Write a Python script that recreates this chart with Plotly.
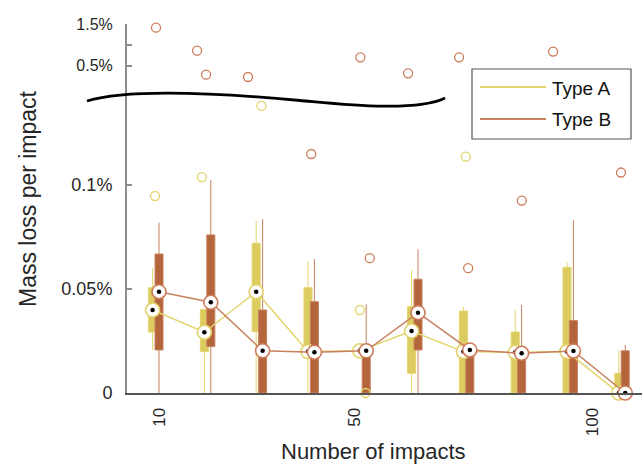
import plotly.graph_objects as go

# ---------------- data ----------------
impacts = [10, 20, 30, 40, 50, 60, 70, 80, 90, 100]
tick_pos = [10.8, 48.4, 94.3]
tick_text = ["10", "50", "100"]

# Type A box statistics (mass loss per impact, %)
A_lo  = [0.0207, 0.0, 0.0, 0.0, 0.0203, 0.0, 0.0, 0.0, 0.0, 0.0]
A_q1  = [0.0293, 0.0199, 0.0295, 0.0196, 0.0203, 0.0095, 0.0, 0.0, 0.0, 0.0]
A_med = [0.0399, 0.0292, 0.0487, 0.0199, 0.0203, 0.0298, 0.0199, 0.0196, 0.0199, 0.0]
A_q3  = [0.0506, 0.0402, 0.0720, 0.0506, 0.0203, 0.0415, 0.0394, 0.0293, 0.0604, 0.0095]
A_hi  = [0.0600, 0.0402, 0.0828, 0.0631, 0.0203, 0.0591, 0.0415, 0.0399, 0.0627, 0.0203]

# Type B box statistics
B_lo  = [0.0, 0.0, 0.0, 0.0, 0.0, 0.0, 0.0, 0.0, 0.0, 0.0]
B_q1  = [0.0207, 0.0223, 0.0, 0.0, 0.0, 0.0207, 0.0, 0.0, 0.0, 0.0]
B_med = [0.0487, 0.0436, 0.0203, 0.0196, 0.0203, 0.0386, 0.0207, 0.0191, 0.0202, 0.0]
B_q3  = [0.0668, 0.0760, 0.0399, 0.0439, 0.0203, 0.0547, 0.0207, 0.0196, 0.0348, 0.0203]
B_hi  = [0.0819, 0.1024, 0.0837, 0.0644, 0.0426, 0.0691, 0.0207, 0.0423, 0.0832, 0.0231]

# outliers
A_out_x = [9.85, 18.9, 30.4, 69.85, 49.4, 50.5]
A_out_y = [0.0947, 0.1038, 0.138, 0.1136, 0.0399, 0.0]
B_out_x = [40.0, 51.3, 70.3, 80.65, 99.8]
B_out_y = [0.1149, 0.0648, 0.060, 0.0925, 0.106]
B_out_hi_x = [10.04, 17.97, 19.7, 27.8, 49.5, 58.7, 68.55, 86.7]
B_out_hi_y = [1.418, 0.862, 0.283, 0.227, 0.703, 0.316, 0.703, 0.84]

# ---------------- style ----------------
W, H = 642, 465
L, R, T, B = 127, 0, 24, 72
PW, PH = W - L - R, H - T - B
BREAK = (H - B - 95) / PH

A_FILL, A_LINE, A_CIRC = "#dccb5f", "#e4d46c", "#e2d36a"
B_FILL, B_LINE, B_CIRC = "#b4653b", "#c88160", "#cc7c5a"
FONT = "Liberation Sans, Arial, sans-serif"
TXT = "#262626"
OFF = 0.62
BW = 1.55

def px(xp):
    return (xp - L) / PW

def py(yp):
    return (H - B - yp) / PH

xa = [v - OFF for v in impacts]
xb = [v + OFF for v in impacts]

fig = go.Figure()

fig.add_trace(go.Box(x=xa, q1=A_q1, median=A_med, q3=A_q3, lowerfence=A_lo, upperfence=A_hi,
                     width=BW, fillcolor=A_FILL, line=dict(color=A_LINE, width=1),
                     whiskerwidth=0, boxpoints=False, showlegend=False, hoverinfo="skip"))
fig.add_trace(go.Box(x=xb, q1=B_q1, median=B_med, q3=B_q3, lowerfence=B_lo, upperfence=B_hi,
                     width=BW, fillcolor=B_FILL, line=dict(color=B_LINE, width=1),
                     whiskerwidth=0, boxpoints=False, showlegend=False, hoverinfo="skip"))

# outliers
fig.add_trace(go.Scatter(x=A_out_x, y=A_out_y, mode="markers", cliponaxis=False,
                         marker=dict(symbol="circle-open", size=9, color=A_CIRC, line=dict(width=1.3)),
                         showlegend=False, hoverinfo="skip"))
fig.add_trace(go.Scatter(x=B_out_x, y=B_out_y, mode="markers", cliponaxis=False,
                         marker=dict(symbol="circle-open", size=9, color=B_CIRC, line=dict(width=1.3)),
                         showlegend=False, hoverinfo="skip"))
fig.add_trace(go.Scatter(x=B_out_hi_x, y=B_out_hi_y, mode="markers", cliponaxis=False,
                         xaxis="x", yaxis="y2",
                         marker=dict(symbol="circle-open", size=9, color=B_CIRC, line=dict(width=1.3)),
                         showlegend=False, hoverinfo="skip"))

# median lines and markers
for xs, med, lc, cc in [(xa, A_med, A_LINE, A_CIRC), (xb, B_med, B_LINE, B_CIRC)]:
    fig.add_trace(go.Scatter(x=xs, y=med, mode="lines+markers", cliponaxis=False,
                             line=dict(color=lc, width=1.5),
                             marker=dict(symbol="circle", size=14, color="white",
                                         line=dict(color=cc, width=1.6)),
                             showlegend=False, hoverinfo="skip"))
    fig.add_trace(go.Scatter(x=xs, y=med, mode="markers", cliponaxis=False,
                             marker=dict(symbol="circle", size=4.5, color="black"),
                             showlegend=False, hoverinfo="skip"))

# break curve
def P(a, b):
    return f"{px(a):.4f},{py(b):.4f}"

path = (f"M {P(87,101)} C {P(130,88)} {P(230,94)} {P(300,100.5)} "
        f"C {P(335,103.5)} {P(415,113)} {P(445,98)}")
shapes = [dict(type="path", path=path, xref="paper", yref="paper",
               line=dict(color="black", width=2.8))]

# manual legend
shapes.append(dict(type="rect", xref="paper", yref="paper",
                   x0=px(472), x1=px(631), y0=py(139), y1=py(69),
                   line=dict(color="#555555", width=1.2), fillcolor="white"))
shapes.append(dict(type="line", xref="paper", yref="paper",
                   x0=px(480), x1=px(546), y0=py(87), y1=py(87),
                   line=dict(color=A_LINE, width=2)))
shapes.append(dict(type="line", xref="paper", yref="paper",
                   x0=px(480), x1=px(546), y0=py(119), y1=py(119),
                   line=dict(color=B_LINE, width=2)))

annotations = [
    dict(text="Type A", xref="paper", yref="paper", x=px(550), y=py(88),
         xanchor="left", yanchor="middle", showarrow=False, font=dict(size=19, color="#111")),
    dict(text="Type B", xref="paper", yref="paper", x=px(550), y=py(120),
         xanchor="left", yanchor="middle", showarrow=False, font=dict(size=19, color="#111")),
    dict(text="Mass loss per impact", xref="paper", yref="paper", x=px(28), y=py(199),
         xanchor="center", yanchor="middle", textangle=-90, showarrow=False,
         font=dict(size=23, color=TXT)),
    dict(text="Number of impacts", xref="paper", yref="paper", x=px(373), y=py(437),
         xanchor="center", yanchor="top", showarrow=False,
         font=dict(size=22, color=TXT)),
]

fig.update_layout(
    width=W, height=H,
    margin=dict(l=L, r=R, t=T, b=B, pad=0),
    paper_bgcolor="white", plot_bgcolor="white",
    font=dict(family=FONT, color=TXT),
    boxmode="overlay",
    showlegend=False,
    shapes=shapes,
    annotations=annotations,
    xaxis=dict(range=[4.44, 103.86], showgrid=False, zeroline=False,
               showline=True, linecolor="#555555", linewidth=2,
               tickmode="array", tickvals=tick_pos, ticktext=tick_text,
               tickangle=-90, ticks="", ticklabelstandoff=6,
               tickfont=dict(size=17, color=TXT), anchor="y"),
    yaxis=dict(domain=[0, BREAK], range=[0, 0.05 * (H - B - 95) / 104],
               showgrid=False, zeroline=False,
               showline=True, linecolor="#8c8c8c", linewidth=2,
               tickmode="array", tickvals=[0, 0.05, 0.1], ticktext=["0", "0.05%", "0.1%"],
               ticks="inside", ticklen=5, tickwidth=1.5, tickcolor="#8c8c8c",
               ticklabelstandoff=9, tickfont=dict(size=18, color=TXT), anchor="x"),
    yaxis2=dict(domain=[BREAK, 1], range=[-0.2077, 1.507],
                showgrid=False, zeroline=False,
                showline=True, linecolor="#8c8c8c", linewidth=2,
                tickmode="array", tickvals=[0.5, 1.0, 1.5], ticktext=["0.5%", "", "1.5%"],
                ticks="inside", ticklen=5, tickwidth=1.5, tickcolor="#8c8c8c",
                ticklabelstandoff=9, tickfont=dict(size=16, color=TXT), anchor="x"),
)

fig.write_html("out.html")
